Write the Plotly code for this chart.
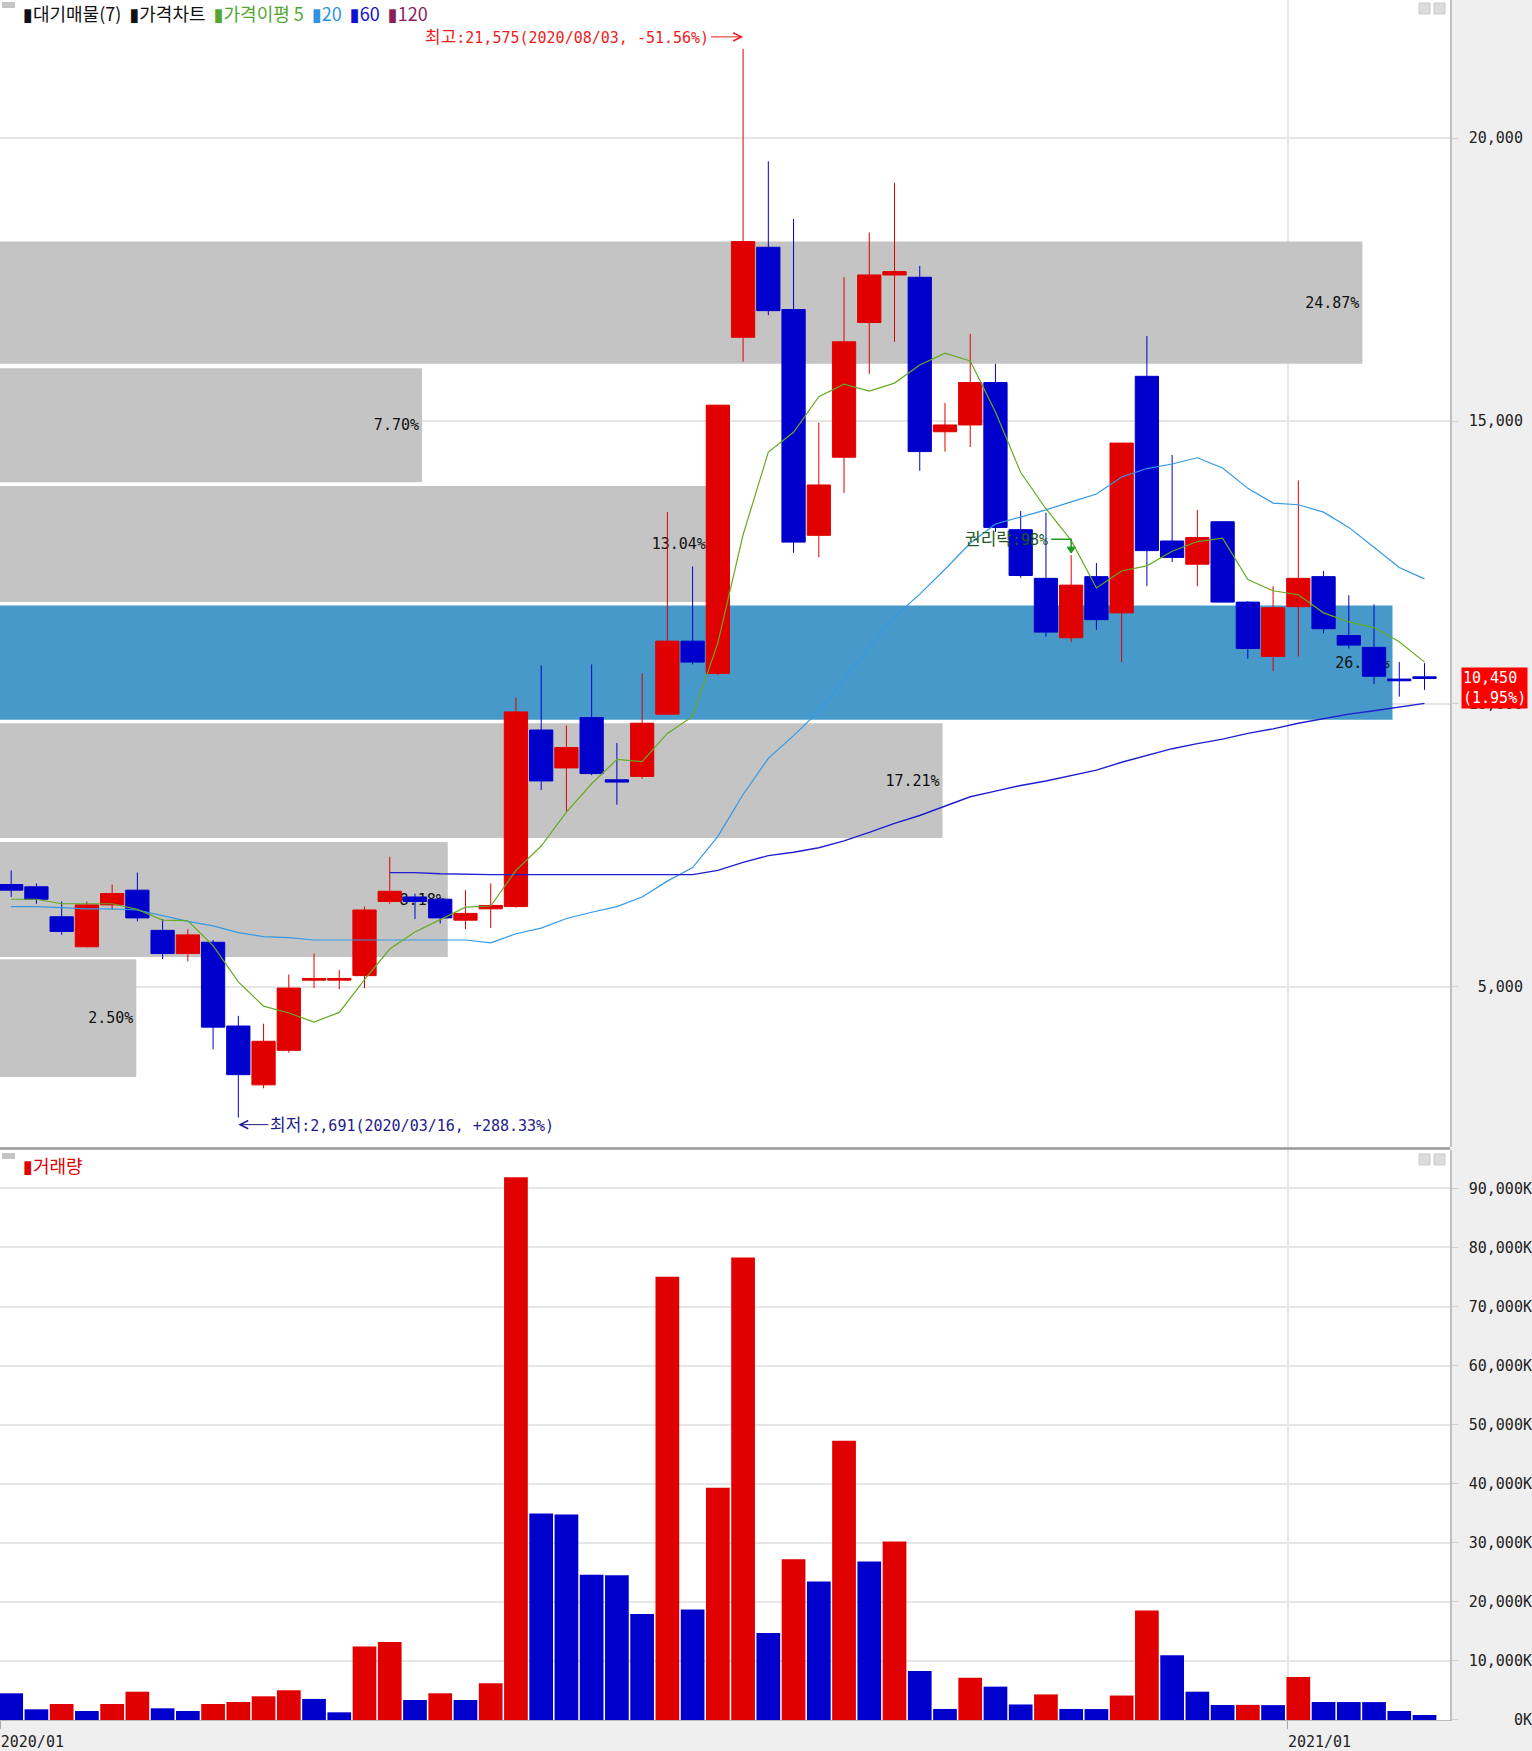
import pandas as pd
import plotly.graph_objects as go

# ---------------- data ----------------
dates = pd.date_range("2020-01-13", periods=57, freq="7D")

opens = [6810, 6770, 6240, 5710, 6450, 6710, 6000, 5590, 5790, 4310,
         3270, 3880, 5120, 5120, 5200, 6510, 6590, 6550, 6180, 6380,
         6420, 9540, 8870, 9760, 8660, 8720, 9820, 11110, 10540, 16480,
         18070, 16970, 12980, 14360, 16740, 17580, 17540, 14810, 14930, 15680,
         13080, 12220, 11170, 12250, 11610, 15790, 12880, 12470, 13220, 11800,
         10840, 11720, 12250, 11210, 11000, 10440, 10480]
highs = [7060, 6830, 6510, 6510, 6810, 7020, 6200, 6020, 5830, 4490,
         4350, 5220, 5590, 5300, 6420, 7300, 6650, 6590, 6710, 6830,
         10110, 10680, 9620, 10700, 9310, 10540, 13390, 12430, 15280, 21575,
         19590, 18570, 14970, 17540, 18330, 19210, 17740, 15320, 16540, 16010,
         13410, 13380, 12630, 12490, 14610, 16500, 14400, 13430, 13220, 11820,
         12080, 13950, 12350, 11920, 11760, 10740, 10720]
lows = [6590, 6470, 5920, 5700, 6360, 6160, 5490, 5450, 3900, 2691,
        3210, 3840, 4980, 4960, 4980, 6470, 6200, 6120, 6020, 6040,
        6400, 8480, 8090, 8740, 8220, 8680, 9820, 10700, 10510, 16050,
        16870, 12670, 12590, 13730, 15830, 16400, 14120, 14460, 14540, 13040,
        12230, 11190, 11090, 11310, 10740, 12080, 12510, 12080, 11800, 10800,
        10580, 10840, 11250, 10980, 10350, 10130, 10250]
closes = [6710, 6550, 5980, 6450, 6650, 6220, 5590, 5920, 4290, 3450,
          4040, 4980, 5150, 5150, 6360, 6690, 6510, 6220, 6300, 6440,
          9860, 8640, 9230, 8770, 8620, 9660, 11110, 10740, 15280, 18170,
          16950, 12860, 13870, 16400, 17580, 17640, 14460, 14930, 15680, 13120,
          12270, 11270, 12100, 11490, 14610, 12710, 12590, 12940, 11800, 10980,
          11700, 12220, 11330, 11040, 10490, 10410, 10450]
volumes_k = [4520, 1810, 2710, 1520, 2710, 4790, 1980, 1520, 2710, 3050,
             4010, 5030, 3570, 1300, 12460, 13220, 3390, 4520, 3390, 6220,
             91900, 34970, 34780, 24570, 24500, 17950, 75060, 18700, 39320, 78280,
             14730, 27220, 23440, 47260, 26840, 30240, 8300, 1870, 7170, 5650,
             2630, 4330, 1870, 1850, 4140, 18520, 10950, 4790, 2540, 2560,
             2520, 7280, 3050, 3040, 3030, 1520, 850]

ma5 = [6550, 6550, 6470, 6470, 6470, 6370, 6180, 6170, 5730, 5090,
       4660, 4540, 4380, 4550, 5130, 5670, 5970, 6190, 6410, 6430,
       7060, 7490, 8090, 8590, 9020, 8980, 9480, 9780, 11080, 12990,
       14450, 14800, 15430, 15650, 15530, 15670, 15990, 16200, 16060, 15160,
       14090, 13450, 12890, 12050, 12350, 12440, 12700, 12870, 12930, 12200,
       12000, 11930, 11610, 11450, 11350, 11100, 10740]
ma20 = [6420, 6420, 6400, 6380, 6380, 6360, 6260, 6160, 6080, 5960,
        5890, 5870, 5830, 5830, 5830, 5830, 5830, 5830, 5830, 5780,
        5940, 6040, 6210, 6320, 6420, 6590, 6870, 7110, 7660, 8400,
        9040, 9440, 9870, 10430, 11000, 11540, 11940, 12380, 12840, 13180,
        13300, 13430, 13570, 13710, 14010, 14160, 14240, 14350, 14170, 13810,
        13550, 13520, 13390, 13120, 12770, 12410, 12210]
ma60 = [None] * 15 + [7020, 7020, 7000, 6990, 6985,
                      6985, 6985, 6985, 6985, 6985, 6985, 6985, 6985, 7060, 7200,
                      7320, 7380, 7460, 7580, 7730, 7890, 8030, 8200, 8360, 8460,
                      8560, 8640, 8740, 8830, 8970, 9090, 9210, 9300, 9380, 9480,
                      9560, 9660, 9740, 9820, 9880, 9950, 10010]

profile_low = [3410, 5530, 7630, 9720, 11800, 13920, 16010]
profile_high = [5490, 7560, 9660, 11740, 13850, 15930, 18170]
profile_size = [2.49, 8.18, 17.22, 25.44, 12.95, 7.71, 24.89]
profile_labels = ["2.50%", "8.18%", "17.21%", "26.50%", "13.04%", "7.70%", "24.87%"]

year_ticks = ["2020/01", "2021/01"]
last_change_pct = 1.95
ex_rights_date = "2020-11-02"
ex_rights_label = "권리락:98%"

# ---------------- style ----------------
MONO = "DejaVu Sans Mono, Noto Sans CJK KR, sans-serif"
KFONT = "Noto Sans CJK KR, DejaVu Sans, sans-serif"
RED = "#e00000"
BLUE = "#0000cc"
GRID = "#e6e6e6"
GRAY_BAND = "#c4c4c4"
HI_BAND = "#4699c8"

W, H = 1532, 1751
ML, MR, MT, MB = 0, 79, 0, 25
PW, PH = W - ML - MR, H - MT - MB
MAIN_BOTTOM_PX = 1151
VOL_TOP_PX = 1154
PRICE_RANGE = [2172, 22439]
VOL_RANGE = [0, 96500]
PROFILE_PX_PER_UNIT = 54.85


def pxx(px):
    return px / PW


def pxy(py):
    return 1 - py / PH


week = pd.Timedelta(days=7)
x_left = dates[0] - week * 0.443
x_right = dates[-1] + week * 1.01

tick_pos = []
for t in year_ticks:
    y, m = t.split("/")
    in_month = dates[(dates.year == int(y)) & (dates.month == int(m))]
    tick_pos.append(in_month[0] - pd.Timedelta(days=3))

fig = go.Figure()

# volume profile (대기매물)
last = closes[-1]
band_mid = [(lo + hi) / 2 for lo, hi in zip(profile_low, profile_high)]
band_h = [hi - lo for lo, hi in zip(profile_low, profile_high)]
band_col = [HI_BAND if lo <= last <= hi else GRAY_BAND
            for lo, hi in zip(profile_low, profile_high)]
fig.add_trace(go.Bar(
    orientation="h", x=profile_size, y=band_mid, width=band_h,
    marker=dict(color=band_col, line=dict(width=0)),
    text=profile_labels, textposition="inside", insidetextanchor="end",
    textangle=0, constraintext="none",
    textfont=dict(family=MONO, size=15, color="#111111"),
    xaxis="x", yaxis="y", hoverinfo="skip"))

# candles
fig.add_trace(go.Candlestick(
    x=dates, open=opens, high=highs, low=lows, close=closes,
    increasing=dict(line=dict(color=RED, width=1), fillcolor=RED),
    decreasing=dict(line=dict(color=BLUE, width=1), fillcolor=BLUE),
    whiskerwidth=0, xaxis="x2", yaxis="y", hoverinfo="skip"))

# moving averages
for vals, col, wd in [(ma20, "#3399e6", 1.2), (ma60, "#1f1fd0", 1.4), (ma5, "#66aa22", 1.2)]:
    fig.add_trace(go.Scatter(x=dates, y=vals, mode="lines",
                             line=dict(color=col, width=wd),
                             xaxis="x2", yaxis="y", hoverinfo="skip"))

# volume
vol_col = [BLUE] + [RED if volumes_k[i] > volumes_k[i - 1] else BLUE
                    for i in range(1, len(volumes_k))]
fig.add_trace(go.Bar(x=dates, y=volumes_k, marker=dict(color=vol_col, line=dict(width=0)),
                     xaxis="x3", yaxis="y2", hoverinfo="skip"))

main_dom = [pxy(MAIN_BOTTOM_PX), 1]
vol_dom = [0, pxy(VOL_TOP_PX)]

fig.update_layout(
    width=W, height=H,
    margin=dict(l=ML, r=MR, t=MT, b=MB, pad=0),
    paper_bgcolor="#efefef", plot_bgcolor="#ffffff",
    showlegend=False,
    font=dict(family=MONO, size=15, color="#222222"),
    boxgap=0.04, boxgroupgap=0.04, bargap=0.06,
    xaxis=dict(domain=[0, 1], anchor="y", range=[0, PW / PROFILE_PX_PER_UNIT],
               visible=False, fixedrange=True),
    xaxis2=dict(overlaying="x", anchor="y", type="date", range=[x_left, x_right],
                tickvals=tick_pos, showticklabels=False, ticks="",
                showgrid=True, gridcolor=GRID, gridwidth=1.5, zeroline=False,
                rangeslider=dict(visible=False)),
    xaxis3=dict(domain=[0, 1], anchor="y2", type="date", range=[x_left, x_right],
                tickvals=tick_pos, ticktext=year_ticks, ticklabelshift=32,
                ticklabeloverflow="allow",
                ticks="outside", ticklen=8, tickcolor="#aaaaaa",
                showgrid=True, gridcolor=GRID, gridwidth=1.5, zeroline=False,
                showline=True, linecolor="#b8b8b8", linewidth=1,
                tickfont=dict(family=MONO, size=15, color="#222222"),
                rangeslider=dict(visible=False)),
    yaxis=dict(domain=main_dom, anchor="x", side="right", range=PRICE_RANGE,
               tick0=0, dtick=5000, tickformat="\u00a0>6,d",
               showgrid=True, gridcolor=GRID, gridwidth=1.5, zeroline=False,
               ticks="outside", ticklen=6, tickcolor="#d0d0d0",
               showline=True, linecolor="#c0c0c0", linewidth=1.5,
               ticklabelstandoff=8,
               tickfont=dict(family=MONO, size=15, color="#222222")),
    yaxis2=dict(domain=vol_dom, anchor="x3", side="right", range=VOL_RANGE,
                tick0=0, dtick=10000, tickformat="\u00a0>6,d", ticksuffix="K",
                showgrid=True, gridcolor=GRID, gridwidth=1.5, zeroline=False,
                ticks="outside", ticklen=6, tickcolor="#d0d0d0",
                showline=True, linecolor="#c0c0c0", linewidth=1.5,
                ticklabelstandoff=8,
                tickfont=dict(family=MONO, size=15, color="#222222")),
)

# ---------------- annotations ----------------
hi_idx = max(range(len(highs)), key=lambda i: highs[i])
lo_idx = min(range(len(lows)), key=lambda i: lows[i])
KSPAN = '<span style="font-size:17px">{}</span>'
hi_txt = KSPAN.format("최고") + ":{:,}({}, {:+.2f}%)".format(
    highs[hi_idx], dates[hi_idx].strftime("%Y/%m/%d"), (last / highs[hi_idx] - 1) * 100)
lo_txt = KSPAN.format("최저") + ":{:,}({}, {:+.2f}%)".format(
    lows[lo_idx], dates[lo_idx].strftime("%Y/%m/%d"), (last / lows[lo_idx] - 1) * 100)
ann = []
ann.append(dict(x=dates[hi_idx], y=highs[hi_idx], xref="x2", yref="y", text=hi_txt,
                showarrow=True, ax=-32, ay=0, axref="pixel", ayref="pixel",
                xanchor="right", yanchor="middle", yshift=12,
                arrowhead=5, arrowsize=1.6, arrowwidth=1, arrowcolor="#ee1c1c",
                font=dict(family=MONO, size=15, color="#ee1c1c")))
ann.append(dict(x=dates[lo_idx], y=lows[lo_idx], xref="x2", yref="y", text=lo_txt,
                showarrow=True, ax=30, ay=0, axref="pixel", ayref="pixel",
                xanchor="left", yanchor="middle", yshift=-7,
                arrowhead=5, arrowsize=1.6, arrowwidth=1, arrowcolor="#1c1c8c",
                font=dict(family=MONO, size=15, color="#1c1c8c")))
ex_i = list(dates).index(pd.Timestamp(ex_rights_date))
ann.append(dict(x=dates[ex_i], y=highs[ex_i], xref="x2", yref="y",
                text=KSPAN.format(ex_rights_label[:3]) + ex_rights_label[3:],
                showarrow=False, xanchor="right", yanchor="middle", xshift=-21, yshift=16,
                font=dict(family=MONO, size=15, color="#1e5a1e")))
# current price tag
ann.append(dict(x=pxx(1464), y=last, xref="paper", yref="y",
                text="{:,}<br>({:.2f}%)".format(last, last_change_pct),
                showarrow=False, xanchor="left", yanchor="top", yshift=12,
                align="left", bgcolor="#ff0000", borderpad=1,
                font=dict(family=MONO, size=15, color="#ffffff")))
# panel legends
SP = "\u00a0 "
legend_html = ('<span style="color:#111111">▮대기매물(7)</span>' + SP +
               '<span style="color:#111111">▮가격차트</span>' + SP +
               '<span style="color:#55a630">▮가격이평 5</span>' + SP +
               '<span style="color:#2d95e0">▮20</span>' + SP +
               '<span style="color:#1010d0">▮60</span>' + SP +
               '<span style="color:#8b1e5c">▮120</span>')
ann.append(dict(x=pxx(21), y=pxy(13), xref="paper", yref="paper", text=legend_html,
                showarrow=False, xanchor="left", yanchor="middle",
                font=dict(family=KFONT, size=18, color="#111111")))
ann.append(dict(x=pxx(21), y=pxy(1169), xref="paper", yref="paper",
                text='<span style="color:#e00000">▮거래량</span>',
                showarrow=False, xanchor="left", yanchor="middle",
                font=dict(family=KFONT, size=18, color="#e00000")))
fig.update_layout(annotations=ann)

# ---------------- shapes ----------------
shapes = []
# separator between panels
shapes.append(dict(type="line", xref="paper", yref="paper", x0=0, x1=1,
                   y0=pxy(1152.5), y1=pxy(1152.5), line=dict(color="#9a9a9a", width=2.5)))
# ex-rights marker
shapes.append(dict(type="path", xref="x2", yref="y", xsizemode="pixel", ysizemode="pixel",
                   xanchor=dates[ex_i], yanchor=highs[ex_i],
                   path="M -20,16 L 0,16 L 0,5", line=dict(color="#229922", width=1.5)))
shapes.append(dict(type="path", xref="x2", yref="y", xsizemode="pixel", ysizemode="pixel",
                   xanchor=dates[ex_i], yanchor=highs[ex_i],
                   path="M -4,8 L 4,8 L 0,2 Z", fillcolor="#229922",
                   line=dict(color="#229922", width=1)))
# panel icons
for top in (3, 1158):
    for left in (1422, 1437):
        shapes.append(dict(type="rect", xref="paper", yref="paper",
                           x0=pxx(left), x1=pxx(left + 11), y0=pxy(top), y1=pxy(top + 11),
                           fillcolor="#dcdcdc", line=dict(color="#c8c8c8", width=1)))
    shapes.append(dict(type="rect", xref="paper", yref="paper",
                       x0=pxx(2), x1=pxx(15), y0=pxy(top - 1), y1=pxy(top + 5),
                       fillcolor="#c4c4c4", line=dict(width=0)))
fig.update_layout(shapes=shapes)

fig.write_html("out.html", config={"displayModeBar": False},
               post_script="document.body.style.margin='0';")
